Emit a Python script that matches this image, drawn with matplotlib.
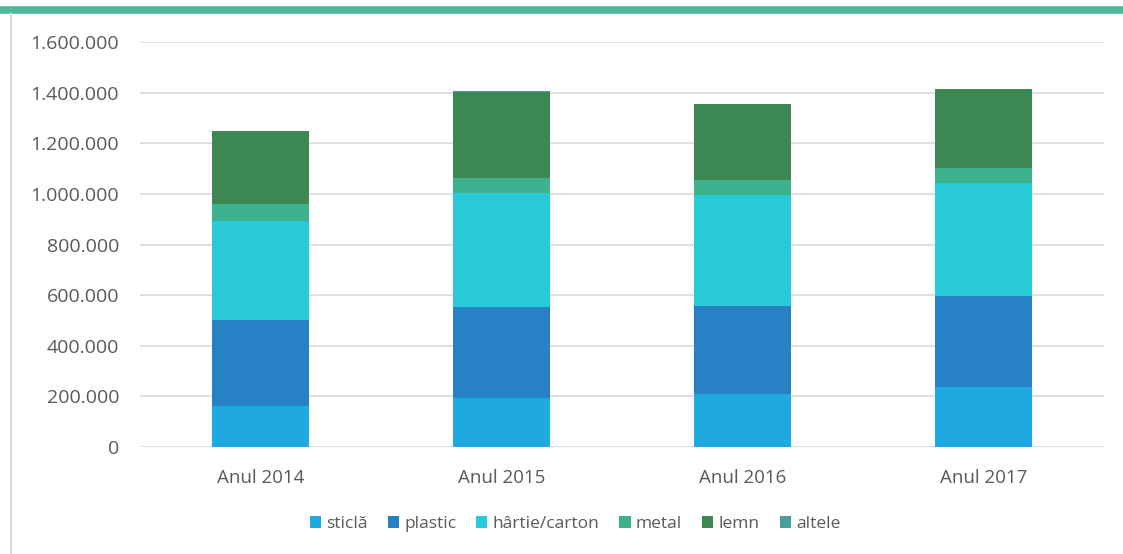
import matplotlib.pyplot as plt
from matplotlib.lines import Line2D
from matplotlib.ticker import FuncFormatter
import numpy as np

# Values (tonnes)
years = ["Anul 2014", "Anul 2015", "Anul 2016", "Anul 2017"]
sticla = [163000, 192000, 209000, 238000]
plastic = [339000, 360000, 348000, 360000]
hartie = [391000, 453000, 439000, 444000]
metal = [67000, 57000, 60000, 60000]
lemn = [288000, 342000, 298000, 312000]
altele = [2000, 2000, 2000, 2000]

series_names = ["sticlă", "plastic", "hârtie/carton", "metal", "lemn", "altele"]
series_colors = ["#1EA9E1", "#2781C5", "#27CAD6", "#3DB28F", "#3D8753", "#4A9E9C"]

yticks = [0, 200000, 400000, 600000, 800000, 1000000, 1200000, 1400000, 1600000]


def thousands(v, pos):
    return f"{int(v):,}".replace(",", ".")


def main() -> None:
    plt.rcParams['font.family'] = ['Open Sans', 'DejaVu Sans']

    fig = plt.figure(figsize=(11.23, 5.54), dpi=100)
    ax = fig.add_axes([140 / 1123, 1 - 447 / 554, 964 / 1123, 405 / 554])

    x = np.arange(len(years))
    bottom = np.zeros(len(years))
    all_series = [sticla, plastic, hartie, metal, lemn, altele]
    for vals, name, col in zip(all_series, series_names, series_colors):
        ax.bar(x, vals, width=0.4, bottom=bottom, color=col, label=name, zorder=3)
        bottom += np.array(vals)

    ax.set_xlim(-0.5, 3.5)
    ax.set_ylim(0, 1600000)
    ax.set_yticks(yticks)
    ax.yaxis.set_major_formatter(FuncFormatter(thousands))
    ax.set_xticks(x)
    ax.set_xticklabels(years)
    ax.tick_params(axis='both', length=0, labelcolor='#595959')
    ax.tick_params(axis='y', labelsize=14, pad=15)
    ax.tick_params(axis='x', labelsize=13.5, pad=16)
    ax.grid(axis='y', color='#DCDCDC', linewidth=1.3, zorder=0)
    for s in ax.spines.values():
        s.set_visible(False)

    leg = fig.legend(loc='center', bbox_to_anchor=(575 / 1123, 1 - 524 / 554), ncol=6,
                     frameon=False, fontsize=12.5, handlelength=0.65, handleheight=0.65,
                     handletextpad=0.3, columnspacing=1.15)
    for t in leg.get_texts():
        t.set_color('#595959')

    # frame decoration: green top rule and thin gray left rule
    fig.add_artist(Line2D([0, 1], [1 - 9.5 / 554, 1 - 9.5 / 554], color='#4FB79A', linewidth=5.5,
                          transform=fig.transFigure))
    fig.add_artist(Line2D([11 / 1123, 11 / 1123], [0, 1 - 14 / 554], color='#D9D9D9', linewidth=1.5,
                          transform=fig.transFigure))

    fig.savefig("out.png", dpi=100)


if __name__ == "__main__":
    main()
